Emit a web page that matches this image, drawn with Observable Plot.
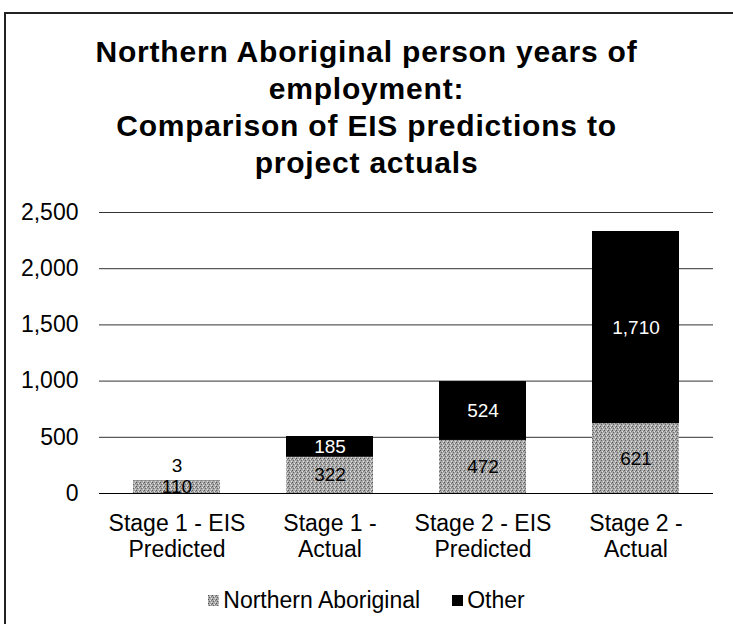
<!DOCTYPE html>
<html>
<head>
<meta charset="utf-8">
<script src="https://cdn.jsdelivr.net/npm/d3@7"></script>
<script src="https://cdn.jsdelivr.net/npm/@observablehq/plot@0.6"></script>
<style>
  html, body { margin: 0; padding: 0; background: #fff; }
  #wrap { position: relative; width: 733px; height: 624px; overflow: hidden; font-family: "Liberation Sans", Arial, sans-serif; }
  #frameTop { position: absolute; left: 4px; top: 12px; width: 729px; height: 0; border-top: 2px solid #222; }
  #frameLeft { position: absolute; left: 4px; top: 12px; width: 0; height: 620px; border-left: 2px solid #222; }
  #title { position: absolute; left: 0; width: 733px; top: 33px; text-align: center; font-weight: bold; font-size: 30px; letter-spacing: 0.8px; line-height: 37px; color: #000; }
  #chart { position: absolute; left: 0; top: 190px; }
  #legend { position: absolute; left: 0; width: 733px; top: 587px; display: flex; justify-content: center; align-items: center; font-size: 23px; color: #000; }
  .sw { display: inline-flex; align-items: center; }
  .sw svg { margin-right: 4px; }
  .gap { width: 32px; }
  #defs { position: absolute; width: 0; height: 0; }
</style>
</head>
<body>
<svg id="defs" width="0" height="0">
  <defs>
    <pattern id="stipple" width="4" height="4" patternUnits="userSpaceOnUse">
      <rect width="4" height="4" fill="#a9a9a9"/>
      <rect x="0" y="0" width="1" height="1" fill="#555"/>
      <rect x="2" y="1" width="1" height="1" fill="#e6e6e6"/>
      <rect x="1" y="2" width="1" height="1" fill="#666"/>
      <rect x="3" y="3" width="1" height="1" fill="#e0e0e0"/>
      <rect x="3" y="1" width="1" height="1" fill="#7a7a7a"/>
    </pattern>
  </defs>
</svg>
<div id="wrap">
  <div id="frameTop"></div>
  <div id="frameLeft"></div>
  <div id="title">Northern Aboriginal person years of<br>employment:<br>Comparison of EIS predictions to<br>project actuals</div>
  <div id="chart"></div>
  <div id="legend"></div>
</div>
<script>
const stages = ["Stage 1 - EIS\nPredicted", "Stage 1 -\nActual", "Stage 2 - EIS\nPredicted", "Stage 2 -\nActual"];
const series = ["Northern Aboriginal", "Other"];
const northernValues = [110, 322, 472, 621];
const otherValues = [3, 185, 524, 1710];
const yTicks = [0, 500, 1000, 1500, 2000, 2500];
const colors = ["url(#stipple)", "#000000"];

const data = [];
stages.forEach((s, i) => {
  data.push({stage: s, series: series[0], value: northernValues[i]});
  data.push({stage: s, series: series[1], value: otherValues[i]});
});

const fmt = d3.format(",");
const font = '"Liberation Sans", Arial, sans-serif';

const chart = Plot.plot({
  width: 733,
  height: 378,
  marginTop: 22,
  marginBottom: 75,
  marginLeft: 99,
  marginRight: 20,
  style: {fontFamily: font, fontSize: "23px", color: "#000", background: "transparent", overflow: "visible"},
  x: {domain: stages, paddingInner: 0.43, paddingOuter: 0.215, label: null},
  y: {domain: [0, 2500], label: null},
  color: {domain: series, range: colors},
  marks: [
    Plot.gridY(yTicks, {stroke: "#333", strokeOpacity: 1, strokeWidth: 1}),
    Plot.barY(data, Plot.stackY({x: "stage", y: "value", z: "series", fill: "series"})),
    Plot.text(data, Plot.stackY({x: "stage", y: "value", z: "series",
      text: d => d.series === series[0] ? fmt(d.value) : null, fill: "#000", fontSize: 19})),
    Plot.text(data, Plot.stackY({x: "stage", y: "value", z: "series",
      text: d => d.series === series[1] && d.value >= 50 ? fmt(d.value) : null, fill: "#fff", fontSize: 19})),
    Plot.text(data, Plot.stackY2({x: "stage", y: "value", z: "series",
      text: d => d.series === series[1] && d.value < 50 ? fmt(d.value) : null, fill: "#000", fontSize: 19, dy: -15})),
    Plot.ruleY([0], {stroke: "#000", strokeWidth: 1}),
    Plot.axisY(yTicks, {tickSize: 0, tickPadding: 21, tickFormat: fmt, fontSize: 23, label: null}),
    Plot.axisX({tickSize: 0, tickPadding: 19, fontSize: 23, lineHeight: 1.12, label: null})
  ]
});
document.getElementById("chart").appendChild(chart);

// legend
const legendDiv = document.getElementById("legend");
series.forEach((s, i) => {
  if (i > 0) { const g = document.createElement("span"); g.className = "gap"; legendDiv.appendChild(g); }
  const sw = document.createElement("span");
  sw.className = "sw";
  sw.innerHTML = `<svg width="11" height="11"><rect width="11" height="11" fill="${colors[i]}"/></svg>`;
  const t = document.createElement("span");
  t.textContent = s;
  sw.appendChild(t);
  legendDiv.appendChild(sw);
});
</script>
</body>
</html>
